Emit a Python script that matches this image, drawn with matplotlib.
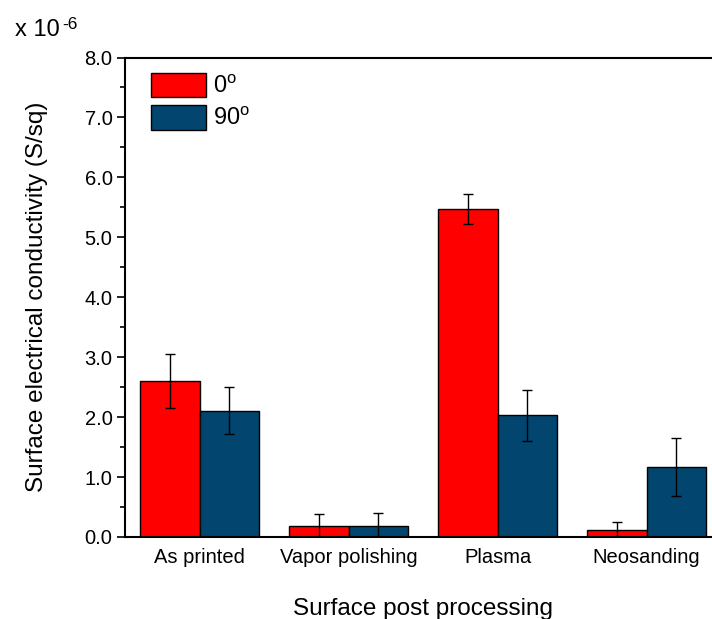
import matplotlib
matplotlib.use("Agg")
import matplotlib.pyplot as plt
import numpy as np
from matplotlib.ticker import MultipleLocator, FormatStrFormatter

plt.rcParams['font.family'] = ['Liberation Sans', 'DejaVu Sans']
plt.rcParams['mathtext.fontset'] = 'custom'
plt.rcParams['mathtext.rm'] = 'Liberation Sans'
plt.rcParams['mathtext.it'] = 'Liberation Sans:italic'

categories = ["As printed", "Vapor polishing", "Plasma", "Neosanding"]
series_names = ["0$^\\mathrm{o}$", "90$^\\mathrm{o}$"]
values_0 = [2.60, 0.18, 5.47, 0.12]
errors_0 = [0.45, 0.20, 0.245, 0.13]
values_90 = [2.11, 0.18, 2.03, 1.17]
errors_90 = [0.39, 0.22, 0.42, 0.49]
colors = ["#ff0000", "#02456f"]

fig = plt.figure(figsize=(7.12, 6.19), dpi=100)
ax = fig.add_axes([125/712, 1-537/619, 596/712, (537-57.5)/619])

x = np.arange(len(categories))
w = 0.4
ekw = dict(ecolor='black', elinewidth=1.0, capsize=3.6, capthick=1.0)
ax.bar(x - w/2, values_0, w, yerr=errors_0, color=colors[0], edgecolor='black',
       linewidth=1.0, label=series_names[0], error_kw=ekw)
ax.bar(x + w/2, values_90, w, yerr=errors_90, color=colors[1], edgecolor='black',
       linewidth=1.0, label=series_names[1], error_kw=ekw)

ax.set_xlim(-0.5, 3.5)
ax.set_ylim(0, 8.0)
ax.yaxis.set_major_locator(MultipleLocator(1.0))
ax.yaxis.set_minor_locator(MultipleLocator(0.5))
ax.yaxis.set_major_formatter(FormatStrFormatter('%.1f'))
ax.set_xticks(x)
ax.set_xticklabels(categories)
ax.tick_params(axis='x', length=0, labelsize=14.5, pad=8)
ax.tick_params(axis='y', which='major', direction='out', length=6, width=1.2, labelsize=14.5, pad=3)
ax.tick_params(axis='y', which='minor', direction='out', length=3.5, width=1.2)
for s in ax.spines.values():
    s.set_linewidth(1.5)

ax.set_xlabel("Surface post processing", fontsize=17.5, labelpad=22)
ax.set_ylabel("Surface electrical conductivity (S/sq)", fontsize=17.5)
ax.yaxis.set_label_coords((48-125)/596, 0.5)
fig.text(15/712, 1-36/619, "x 10", fontsize=17, ha='left', va='baseline')
fig.text(62/712, 1-29/619, "-6", fontsize=12.5, ha='left', va='baseline')

leg = ax.legend(loc='upper left', bbox_to_anchor=((150.7-125)/596, 1-(72.5-57.5)/479.5),
                frameon=False, fontsize=17, handlelength=2.33, handleheight=1.25,
                labelspacing=0.28, handletextpad=0.3, borderaxespad=0.0,
                borderpad=0.0)

fig.savefig("out.png", dpi=100)
